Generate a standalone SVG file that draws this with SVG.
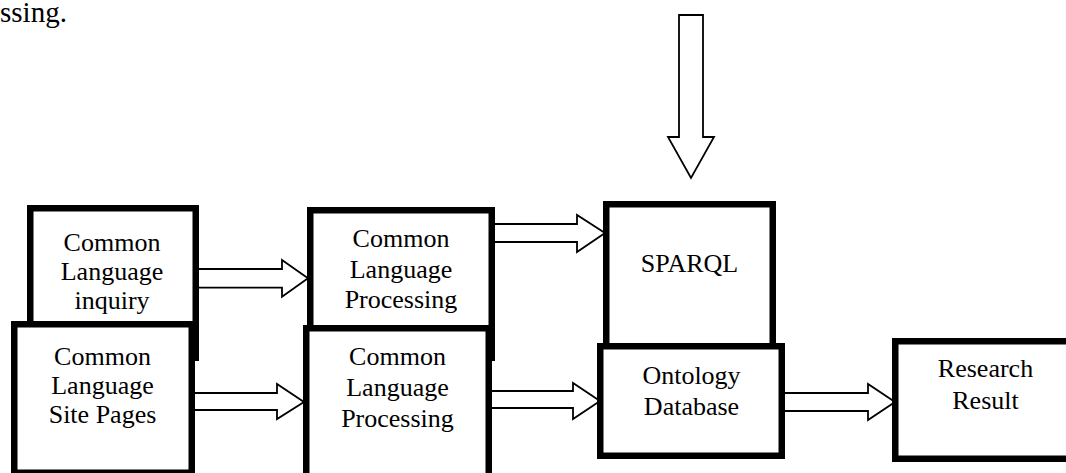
<svg xmlns="http://www.w3.org/2000/svg" width="1066" height="473" viewBox="0 0 1066 473">
  <style>
    .box { fill: #ffffff; stroke: #000000; stroke-width: 6.5; }
    .arrow { fill: #ffffff; stroke: #000000; stroke-width: 1.8; stroke-linejoin: miter; }
    .label { font-family: "Liberation Serif", "Times New Roman", serif; font-size: 26px; fill: #000000; text-anchor: middle; }
    .body { font-family: "Liberation Serif", "Times New Roman", serif; font-size: 29px; fill: #000000; }
  </style>

  <rect x="0" y="0" width="1066" height="473" fill="#ffffff"/>

  <!-- tail of the preceding sentence -->
  <text class="body" x="0" y="22">ssing.</text>

  <!-- block arrows (drawn first so box borders cover their ends) -->
  <g id="connectors">
    <!-- inquiry -> processing (top) -->
    <path class="arrow" d="M190,269 H282 V260 L308,278.3 L282,296.7 V287.7 H190 Z"/>
    <!-- site pages -> processing (bottom) -->
    <path class="arrow" d="M186,393 H277 V384 L304,402 L277,419 V410 H186 Z"/>
    <!-- processing (top) -> SPARQL -->
    <path class="arrow" d="M486,224 H577 V215 L605,233 L577,252 V242 H486 Z"/>
    <!-- processing (bottom) -> ontology database -->
    <path class="arrow" d="M482,391 H573 V383 L600,401 L573,419 V408 H482 Z"/>
    <!-- ontology database -> research result -->
    <path class="arrow" d="M776,393 H868 V384 L895,402 L868,420 V411 H776 Z"/>
    <!-- incoming query from above into SPARQL -->
    <path class="arrow" d="M679,15 H703 V137 H714 L691,178 L668,137 H679 Z"/>
  </g>

  <g id="node-inquiry">
    <rect class="box" x="30.25" y="208.25" width="165.5" height="149.5"/>
  </g>
  <g id="node-site-pages">
    <rect class="box" x="14.25" y="324.25" width="177.5" height="148.5"/>
    <text class="label" x="102.5" y="365">Common</text>
    <text class="label" x="102.5" y="394">Language</text>
    <text class="label" x="102.5" y="423">Site Pages</text>
  </g>
  <g id="node-inquiry-text">
    <text class="label" x="112" y="251">Common</text>
    <text class="label" x="112" y="280">Language</text>
    <text class="label" x="112" y="309">inquiry</text>
  </g>

  <g id="node-processing-top">
    <rect class="box" x="310.25" y="210.25" width="181.5" height="147.5"/>
    <text class="label" x="401" y="246.5">Common</text>
    <text class="label" x="401" y="277.5">Language</text>
    <text class="label" x="401" y="307.5">Processing</text>
  </g>
  <g id="node-processing-bottom">
    <rect class="box" x="306.25" y="328.25" width="182.5" height="152"/>
    <text class="label" x="397.5" y="365">Common</text>
    <text class="label" x="397.5" y="396">Language</text>
    <text class="label" x="397.5" y="427">Processing</text>
  </g>

  <g id="node-sparql">
    <rect class="box" x="606.25" y="204.25" width="166.5" height="142"/>
    <text class="label" x="689.5" y="272">SPARQL</text>
  </g>
  <g id="node-ontology">
    <rect class="box" x="600.25" y="346.25" width="181.5" height="109.5"/>
    <text class="label" x="691.5" y="384">Ontology</text>
    <text class="label" x="691.5" y="415">Database</text>
  </g>

  <g id="node-research">
    <rect class="box" x="895.25" y="341.25" width="180" height="117.5"/>
    <text class="label" x="985.5" y="377">Research</text>
    <text class="label" x="985.5" y="408.5">Result</text>
  </g>
</svg>
